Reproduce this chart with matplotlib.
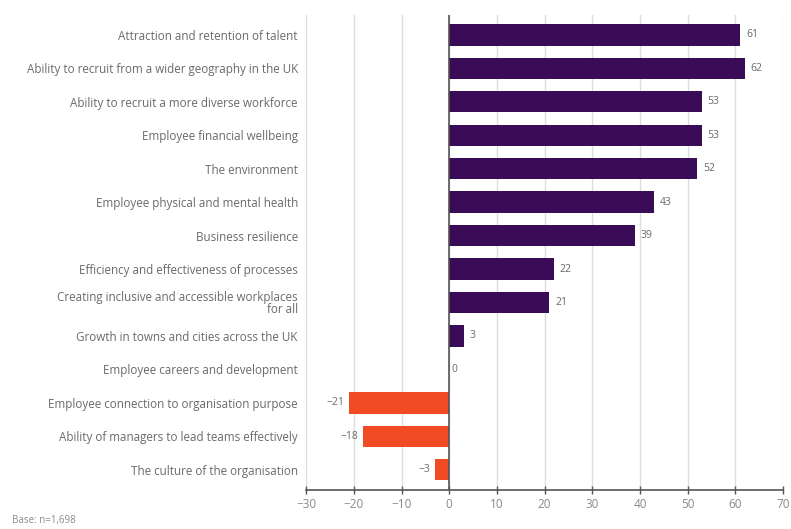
import matplotlib
matplotlib.use('Agg')
import matplotlib.pyplot as plt

# Datos del gráfico
categories = [
    'Attraction and retention of talent',
    'Ability to recruit from a wider geography in the UK',
    'Ability to recruit a more diverse workforce',
    'Employee financial wellbeing',
    'The environment',
    'Employee physical and mental health',
    'Business resilience',
    'Efficiency and effectiveness of processes',
    'Creating inclusive and accessible workplaces\nfor all',
    'Growth in towns and cities across the UK',
    'Employee careers and development',
    'Employee connection to organisation purpose',
    'Ability of managers to lead teams effectively',
    'The culture of the organisation',
]
values = [61, 62, 53, 53, 52, 43, 39, 22, 21, 3, 0, -21, -18, -3]
x_ticks = [-30, -20, -10, 0, 10, 20, 30, 40, 50, 60, 70]

purple = '#3a0b57'
orange = '#f04b22'
text_grey = '#6a6a6a'

plt.rcParams['font.family'] = ['Open Sans', 'DejaVu Sans']

fig = plt.figure(figsize=(7.91, 5.29), dpi=100)
ax = fig.add_axes([0.387, 0.074, 0.603, 0.898])

y = list(range(len(categories)))
colors = [purple if v >= 0 else orange for v in values]
ax.barh(y, values, height=0.64, color=colors, zorder=3)

# Etiquetas de valores
for yi, v in zip(y, values):
    if v > 0:
        ax.text(v + 1.2, yi, str(v), va='center', ha='left', fontsize=7.5, color=text_grey)
    elif v == 0:
        ax.text(0.4, yi, '0', va='center', ha='left', fontsize=7.5, color=text_grey)
    else:
        ax.text(v - 1.0, yi, '\u2212' + str(-v), va='center', ha='right', fontsize=7.5, color=text_grey)

ax.set_xlim(-30, 70)
ax.set_ylim(13.6, -0.6)
ax.set_xticks(x_ticks)
ax.set_xticklabels([('\u2212' + str(-t)) if t < 0 else str(t) for t in x_ticks],
                   fontsize=8.5, color='#8a8a8a')
ax.set_yticks(y)
ax.set_yticklabels(categories, fontsize=8.4, color=text_grey, linespacing=0.9,
                   multialignment='right')
ax.tick_params(axis='y', length=0, pad=6)
ax.tick_params(axis='x', direction='inout', length=6, width=1, color='#555555', pad=3)

ax.grid(axis='x', color='#dddddd', linewidth=1, zorder=0)
ax.axvline(0, color='#555555', linewidth=1.2, zorder=4)
for s in ['top', 'right', 'left']:
    ax.spines[s].set_visible(False)
ax.spines['bottom'].set_color('#555555')
ax.spines['bottom'].set_linewidth(1.2)

fig.text(0.015, 0.012, 'Base: n=1,698', fontsize=7, color='#8a8a8a')

fig.savefig('out.png', dpi=100)
